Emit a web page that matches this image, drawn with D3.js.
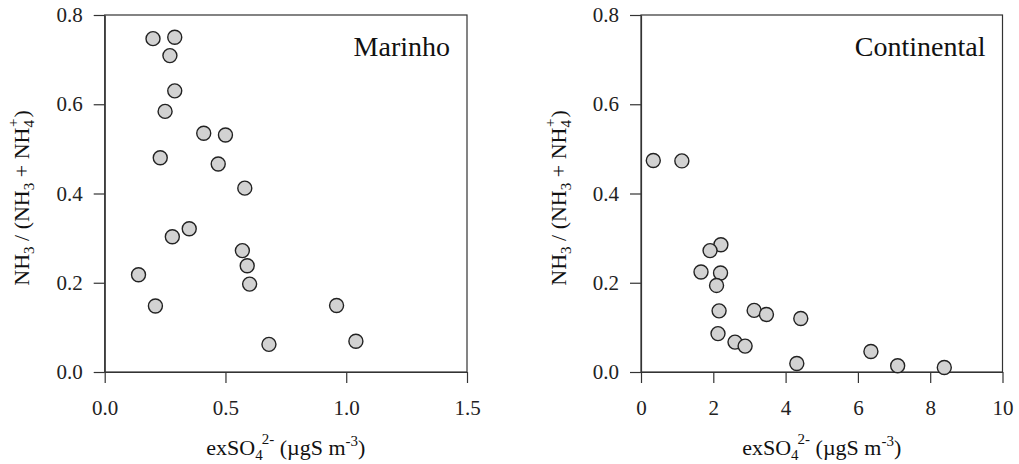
<!DOCTYPE html>
<html>
<head>
<meta charset="utf-8">
<script src="https://cdn.jsdelivr.net/npm/d3@7"></script>
<style>
  html, body { margin: 0; padding: 0; background: #fff; }
  svg { display: block; font-family: "Liberation Serif", "Times New Roman", serif; }
</style>
</head>
<body>
<svg id="chart" width="1019" height="464"></svg>
<script>
// Marine air masses: excess sulfate vs. gas fraction of ammonia
const marinhoSO4 = [0.20, 0.29, 0.27, 0.29, 0.25, 0.41, 0.50, 0.23, 0.47, 0.58,
                    0.35, 0.28, 0.57, 0.59, 0.60, 0.14, 0.21, 0.96, 0.68, 1.04];
const marinhoNH3 = [0.747, 0.750, 0.709, 0.630, 0.584, 0.535, 0.531, 0.480, 0.466, 0.412,
                    0.321, 0.303, 0.272, 0.238, 0.197, 0.218, 0.148, 0.149, 0.062, 0.069];

// Continental air masses
const continentalSO4 = [0.34, 1.13, 2.21, 1.91, 1.66, 2.20, 2.09, 2.16, 3.13, 3.47,
                        4.42, 2.13, 2.60, 2.88, 4.31, 6.36, 7.10, 8.39];
const continentalNH3 = [0.474, 0.473, 0.285, 0.272, 0.224, 0.222, 0.194, 0.137, 0.138, 0.129,
                        0.120, 0.086, 0.067, 0.058, 0.019, 0.046, 0.014, 0.010];

const yTicks = [0.0, 0.2, 0.4, 0.6, 0.8];
const marinhoXTicks = [0.0, 0.5, 1.0, 1.5];
const continentalXTicks = [0, 2, 4, 6, 8, 10];

const svg = d3.select("#chart");
svg.append("rect").attr("width", 1019).attr("height", 464).attr("fill", "#fff");

const plotTop = 15, plotBottom = 372;
const tickFont = 21;
const titleFont = 22, smallFont = 15;

function panel(opts) {
  const g = svg.append("g");
  const x = d3.scaleLinear().domain(opts.xDomain).range([opts.left, opts.right]);
  const y = d3.scaleLinear().domain([0, 0.8]).range([plotBottom, plotTop]);

  // frame
  g.append("rect")
    .attr("x", opts.left).attr("y", plotTop)
    .attr("width", opts.right - opts.left).attr("height", plotBottom - plotTop)
    .attr("fill", "none").attr("stroke", "#333").attr("stroke-width", 1.2);

  const xAxis = g.append("g")
    .attr("transform", `translate(0,${plotBottom})`)
    .call(d3.axisBottom(x).tickValues(opts.xTicks).tickFormat(opts.xFormat)
      .tickSize(11).tickSizeOuter(0).tickPadding(17));
  const yAxis = g.append("g")
    .attr("transform", `translate(${opts.left},0)`)
    .call(d3.axisLeft(y).tickValues(yTicks).tickFormat(d3.format(".1f"))
      .tickSize(11).tickSizeOuter(0).tickPadding(11));

  [xAxis, yAxis].forEach(a => {
    a.select(".domain").attr("stroke", "#333").attr("stroke-width", 1.2);
    a.selectAll(".tick line").attr("stroke", "#333").attr("stroke-width", 1.2);
    a.selectAll(".tick text")
      .attr("font-family", "Liberation Serif, Times New Roman, serif")
      .attr("font-size", tickFont).attr("fill", "#222");
  });

  // points
  g.append("g").selectAll("circle")
    .data(opts.xs.map((v, i) => [v, opts.ys[i]]))
    .join("circle")
    .attr("cx", d => x(d[0]))
    .attr("cy", d => y(d[1]))
    .attr("r", 7)
    .attr("fill", "#d2d2d2")
    .attr("stroke", "#222")
    .attr("stroke-width", 1.4);

  // panel title
  g.append("text")
    .attr("x", opts.right - 17).attr("y", 56)
    .attr("text-anchor", "end")
    .attr("font-size", 28).attr("fill", "#111")
    .text(opts.title);

  // x-axis title: exSO4^2- (µgS m^-3)
  const xt = g.append("text")
    .attr("x", (opts.left + opts.right) / 2).attr("y", 455)
    .attr("text-anchor", "middle")
    .attr("font-size", titleFont).attr("fill", "#111");
  xt.append("tspan").text("exSO");
  xt.append("tspan").attr("font-size", smallFont).attr("dy", 5).text("4");
  xt.append("tspan").attr("font-size", smallFont).attr("dy", -16).attr("dx", -1).text("2-");
  xt.append("tspan").attr("dy", 11).text(" (µgS m");
  xt.append("tspan").attr("font-size", smallFont).attr("dy", -9).text("-3");
  xt.append("tspan").attr("dy", 9).text(")");

  // y-axis title: NH3 / (NH3 + NH4+)
  const yt = g.append("text")
    .attr("transform", `translate(${opts.yTitleX},198) rotate(-90)`)
    .attr("text-anchor", "middle")
    .attr("font-size", titleFont).attr("fill", "#111");
  yt.append("tspan").text("NH");
  yt.append("tspan").attr("font-size", smallFont).attr("dy", 5).text("3");
  yt.append("tspan").attr("dy", -5).text(" / (NH");
  yt.append("tspan").attr("font-size", smallFont).attr("dy", 5).text("3");
  yt.append("tspan").attr("dy", -5).text(" + NH");
  yt.append("tspan").attr("font-size", smallFont).attr("dy", 5).text("4");
  yt.append("tspan").attr("font-size", smallFont).attr("dy", -16).attr("dx", -7).text("+");
  yt.append("tspan").attr("dy", 11).attr("dx", 1).text(")");
}

panel({
  left: 104.7, right: 467,
  xDomain: [0, 1.5], xTicks: marinhoXTicks, xFormat: d3.format(".1f"),
  xs: marinhoSO4, ys: marinhoNH3, title: "Marinho", yTitleX: 29
});

panel({
  left: 641, right: 1002.5,
  xDomain: [0, 10], xTicks: continentalXTicks, xFormat: d3.format("d"),
  xs: continentalSO4, ys: continentalNH3, title: "Continental", yTitleX: 566
});
</script>
</body>
</html>
